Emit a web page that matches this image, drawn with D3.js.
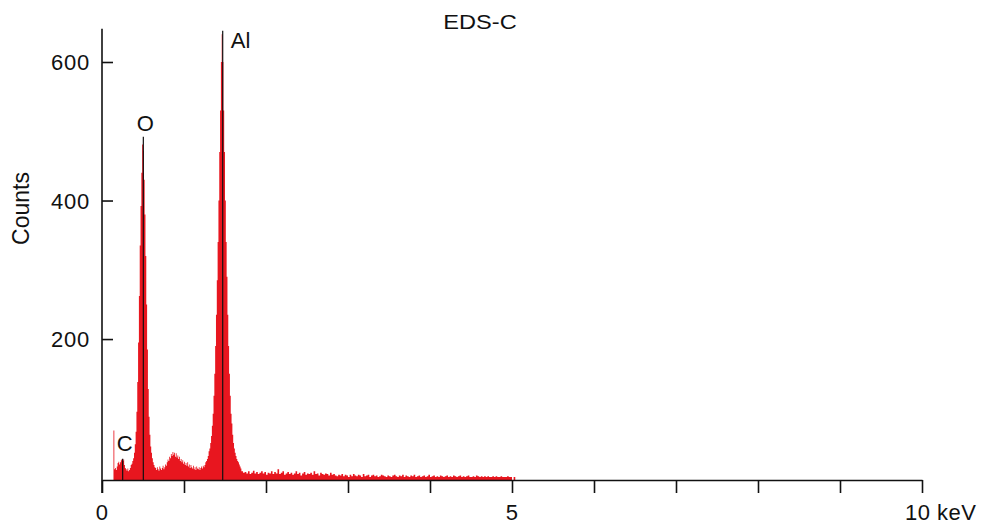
<!DOCTYPE html>
<html>
<head>
<meta charset="utf-8">
<script src="https://cdn.jsdelivr.net/npm/d3@7"></script>
<style>
  html, body { margin: 0; padding: 0; background: #fff; }
  svg { display: block; font-family: "Liberation Sans", Arial, Helvetica, sans-serif; }
</style>
</head>
<body>
<svg id="chart" width="994" height="529"></svg>
<script>
// ---------------- data ----------------
const chartTitle = "EDS-C";
const yAxisLabel = "Counts";
const xTickValues = [0, 1, 2, 3, 4, 5, 6, 7, 8, 9, 10];
const xTickLabels = ["0", "", "", "", "", "5", "", "", "", "", "10 keV"];
const yTickValues = [200, 400, 600];

// fine channels: start 0.13 keV, width 0.01 keV
const fineStart = 0.13, fineStep = 0.01;
const countsFine = [
  0, 68, 12, 14, 11, 16, 21, 23, 19, 22,          // 0.13-0.22
  25, 27, 24, 26, 18, 14, 12, 10, 13, 9,          // 0.23-0.32
  11, 14, 18, 20, 24, 28, 36, 48, 66, 95,         // 0.33-0.42
  138, 195, 262, 335, 392, 440, 481, 472, 430, 380, // 0.43-0.52
  320, 250, 185, 128, 88, 62, 45, 36, 28, 22,     // 0.53-0.62
  18, 15, 14, 11, 15, 12, 10, 16, 13, 11,         // 0.63-0.72
  14, 17, 12, 15, 19, 17, 22, 26, 24, 30,         // 0.73-0.82
  28, 34, 31, 37, 33, 36, 30, 35, 29, 32,         // 0.83-0.92
  27, 30, 24, 27, 22, 25, 20, 23, 18, 21,         // 0.93-1.02
  17, 22, 16, 19, 14, 18, 15, 13, 17, 12,         // 1.03-1.12
  15, 11, 16, 13, 12, 15, 11, 14, 16, 13,         // 1.13-1.22
  17, 15, 18, 22, 24, 27, 31, 38, 42, 50,         // 1.23-1.32
  60, 75, 92, 118, 150, 190, 235, 285, 340, 400,  // 1.33-1.42
  470, 530, 600, 640, 600, 530, 470, 400, 340, 290, // 1.43-1.52
  235, 190, 150, 118, 92, 78, 62, 50, 42, 36,     // 1.53-1.62
  31, 27, 24, 22, 19, 16, 13                      // 1.63-1.69
];

// coarse channels: start 1.70 keV, width 0.02 keV
const coarseStart = 1.70, coarseStep = 0.02;
const countsCoarse = [
  9, 7, 8, 6, 9, 5, 7, 10, 6, 8,
  5, 7, 9, 6, 8, 4, 7, 6, 9, 5,
  8, 6, 12, 5, 7, 9, 4, 6, 8, 5,
  7, 4, 6, 9, 5, 7, 3, 6, 8, 4,
  6, 5, 7, 4, 9, 5, 6, 3, 7, 5,
  4, 6, 5, 3, 7, 4, 5, 3, 2, 4,
  3, 5, 2, 4, 3, 1, 4, 2, 5, 3,
  2, 4, 3, 1, 5, 2, 3, 4, 1, 3,
  4, 2, 3, 1, 2, 4, 3, 2, 1, 3,
  2, 1, 3, 4, 2, 1, 3, 2, 4, 1,
  3, 2, 1, 3, 2, 4, 1, 2, 3, 1,
  2, 3, 1, 2, 4, 1, 2, 3, 1, 2,
  1, 3, 2, 1, 2, 3, 1, 2, 1, 3,
  2, 1, 2, 3, 1, 2, 1, 2, 3, 1,
  1, 2, 1, 3, 2, 1, 2, 1, 2, 1,
  2, 1, 1, 2, 1, 2, 1, 1, 2, 1,
  1, 1, 2, 1, 1, 0, 1, 0, 0, 0
];

// element marker lines and labels
const elements   = ["C", "O", "Al"];
const markerKeV  = [0.252, 0.504, 1.472];
const markerTop  = [27, 492, 645];

// ---------------- drawing ----------------
const svg = d3.select("#chart");
const x = d3.scaleLinear().domain([0, 10]).range([102, 922]);
const y = d3.scaleLinear().domain([-3.5, 600]).range([480, 62]);
const yAxisTopCount = 648;

// build channel list
const channels = [];
countsFine.forEach((c, i) => channels.push({ e: fineStart + i * fineStep, c }));
countsCoarse.forEach((c, i) => channels.push({ e: coarseStart + i * coarseStep, c }));
const lastE = coarseStart + countsCoarse.length * coarseStep;
channels.push({ e: lastE, c: 0 });

const area = d3.area()
  .curve(d3.curveStepAfter)
  .x(d => x(d.e))
  .y0(y.range()[0])
  .y1(d => y(d.c === 0 ? -3.5 : d.c));

svg.append("path")
  .datum(channels)
  .attr("d", area)
  .attr("fill", "#e8161f")
  .attr("stroke", "none");

// marker lines
svg.append("g").selectAll("line")
  .data(markerKeV)
  .join("line")
  .attr("x1", d => x(d)).attr("x2", d => x(d))
  .attr("y1", y.range()[0])
  .attr("y2", (d, i) => y(markerTop[i]))
  .attr("stroke", "#111")
  .attr("stroke-width", 1.2);

// x axis
const xAxis = d3.axisBottom(x)
  .tickValues(xTickValues)
  .tickSize(13)
  .tickSizeOuter(0)
  .tickFormat("");
const gx = svg.append("g")
  .attr("transform", `translate(0,${y.range()[0]})`)
  .call(xAxis);
gx.select(".domain").attr("stroke", "#111").attr("stroke-width", 1.6);
gx.selectAll(".tick line").attr("stroke", "#111").attr("stroke-width", 1.6);

// y axis
const yAxis = d3.axisLeft(y)
  .tickValues(yTickValues)
  .tickSize(-11)
  .tickSizeOuter(0)
  .tickPadding(12);
const gy = svg.append("g")
  .attr("transform", `translate(${x.range()[0]},0)`)
  .call(yAxis);
gy.select(".domain").remove();
gy.selectAll(".tick line").attr("stroke", "#111").attr("stroke-width", 1.6);
gy.selectAll(".tick text")
  .attr("font-size", 22)
  .attr("letter-spacing", "0.8px")
  .attr("fill", "#111")
  .attr("font-family", "Liberation Sans, Arial, sans-serif")
  .attr("dy", "0.36em");
gy.append("line")
  .attr("x1", 0).attr("x2", 0)
  .attr("y1", y(yAxisTopCount))
  .attr("y2", y.range()[0] + 13)
  .attr("stroke", "#111").attr("stroke-width", 1.6);

// x tick labels
svg.append("g").selectAll("text")
  .data(xTickValues.filter((d, i) => xTickLabels[i] !== ""))
  .join("text")
  .attr("x", d => d === 10 ? x(d) - 17 : x(d))
  .attr("y", y.range()[0] + 40)
  .attr("text-anchor", d => d === 10 ? "start" : "middle")
  .attr("font-size", 22)
  .attr("letter-spacing", "0.5px")
  .attr("fill", "#111")
  .text(d => xTickLabels[xTickValues.indexOf(d)]);

// y label
svg.append("text")
  .attr("transform", `translate(29,${y(400) + 8}) rotate(-90)`)
  .attr("text-anchor", "middle")
  .attr("font-size", 23)
  .attr("fill", "#111")
  .text(yAxisLabel);

// title
svg.append("text")
  .attr("transform", `translate(480,29) scale(1.18,1)`)
  .attr("text-anchor", "middle")
  .attr("font-size", 20)
  .attr("fill", "#111")
  .text(chartTitle);

// element labels
const labelDX = [-6, 2, 8];
const labelAnchor = ["start", "middle", "start"];
const labelCount = [38, 500, 620];
svg.append("g").selectAll("text")
  .data(elements)
  .join("text")
  .attr("x", (d, i) => x(markerKeV[i]) + labelDX[i])
  .attr("y", (d, i) => y(labelCount[i]))
  .attr("text-anchor", (d, i) => labelAnchor[i])
  .attr("font-size", 22)
  .attr("fill", "#111")
  .text(d => d);
</script>
</body>
</html>
